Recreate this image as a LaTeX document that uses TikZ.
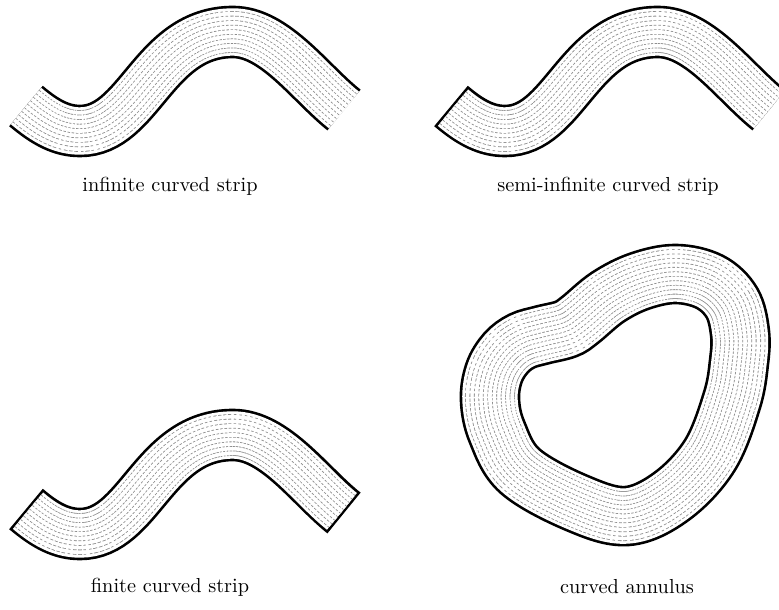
\documentclass[tikz,border=0pt]{standalone}
\usepackage{tikz}
\definecolor{guidegray}{gray}{0.55}

\tikzset{
  bandedge/.style={line width=#1+1.3pt, black},
  bandfill/.style={line width=#1-1.3pt, white},
  guide/.style={line width=#1+0.4pt, guidegray, dash pattern=on 1.2pt off 0.8pt},
  guidewipe/.style={line width=#1-0.4pt, white},
  caption/.style={font=\normalsize}
}

\begin{document}
\begin{tikzpicture}[x=0.4926pt, y=-0.4926pt]
  \def\lw{1.3pt}
  \def\sw{24.63pt}
  \def\ss{2.24pt}
  \def\aw{28.57pt}
  \def\as{2.2pt}
  \def\strippath{(26,106) .. controls (46,123) and (62,131) .. (80,131)
    .. controls (140,131) and (153,32) .. (233,32)
    .. controls (275,32) and (310,83) .. (344,110)}
  \def\annpath{plot[smooth cycle, tension=0.6] coordinates {(676,274) (710,282)
    (732,303) (740,333) (739,362) (732,400) (710,455) (672,496) (627,516)
    (577,503) (520,471) (497,432) (490,400) (494,373) (506,353) (522,341)
    (542,335) (566,329) (580,320) (608,297) (640,281)}}

  \useasboundingbox (0,0) rectangle (779,610);

  % --- infinite strip (both ends open) ---
  \draw[bandedge=\sw] \strippath;
  \draw[bandfill=\sw] \strippath;
  \foreach \k in {1,...,5} {
    \draw[guide=\sw-2*\k*\ss] \strippath;
    \draw[guidewipe=\sw-2*\k*\ss] \strippath;
  }
  \node[caption] (infcap) at (170,186) {infinite curved strip};

  % --- semi-infinite strip (left end closed) ---
  \begin{scope}[shift={(425,0)}]
    \draw[bandedge=\sw] \strippath;
    \draw[bandfill=\sw, shorten <=\lw] \strippath;
    \foreach \k in {1,...,5} {
      \draw[guide=\sw-2*\k*\ss, shorten <=\lw] \strippath;
      \draw[guidewipe=\sw-2*\k*\ss, shorten <=\lw] \strippath;
    }
  \end{scope}
  \node[caption] (semicap) at (608,186) {semi-infinite curved strip};

  % --- finite strip (both ends closed) ---
  \begin{scope}[shift={(0,403)}]
    \draw[bandedge=\sw] \strippath;
    \draw[bandfill=\sw, shorten <=\lw, shorten >=\lw] \strippath;
    \foreach \k in {1,...,5} {
      \draw[guide=\sw-2*\k*\ss, shorten <=\lw, shorten >=\lw] \strippath;
      \draw[guidewipe=\sw-2*\k*\ss, shorten <=\lw, shorten >=\lw] \strippath;
    }
  \end{scope}
  \node[caption] (fincap) at (170,587) {finite curved strip};

  % --- annulus ---
  \draw[bandedge=\aw] \annpath;
  \draw[bandfill=\aw] \annpath;
  \foreach \k in {1,...,6} {
    \draw[guide=\aw-2*\k*\as] \annpath;
    \draw[guidewipe=\aw-2*\k*\as] \annpath;
  }
  \node[caption] (anncap) at (627,587) {curved annulus};
\end{tikzpicture}
\end{document}
